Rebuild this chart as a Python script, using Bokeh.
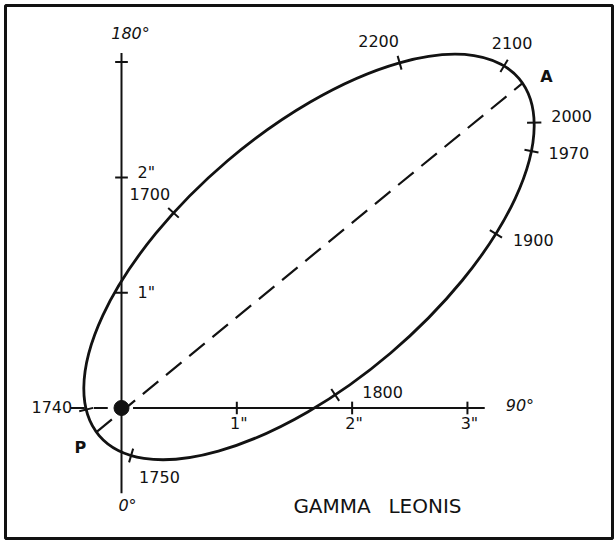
import numpy as np
from bokeh.plotting import figure
from bokeh.core.properties import value
from bokeh.embed import file_html
from bokeh.resources import INLINE

# Apparent relative orbit of Gamma Leonis, in arcseconds from the primary
# (x toward position angle 90 deg, y toward position angle 180 deg).
orbit_center = (1.626, 1.310)
orbit_semi_major = 2.39
orbit_semi_minor = 1.094
orbit_tilt_deg = 40.4

# Companion positions at the marked epochs
epoch_labels = ["1700", "1740", "1750", "1800", "1900", "1970", "2000", "2100", "2200"]
epoch_x = [0.468, -0.338, 0.078, 1.839, 3.226, 3.573, 3.599, 3.330, 2.411]
epoch_y = [1.678, -0.022, -0.429, 0.134, 1.522, 2.225, 2.476, 2.987, 2.996]

# Periastron (P) and apastron (A) on the apparent orbit
apsis_labels = ["P", "A"]
apsis_x = [-0.234, 3.487]
apsis_y = [-0.221, 2.823]

# Arcsecond scale marks along both reference lines
scale_ticks = [1, 2, 3]
scale_tick_labels = ['1"', '2"', '3"']
title_words = ["GAMMA", "LEONIS"]

INK = "#121212"
FONT = value("DejaVu Sans")

# ---- geometry helpers -------------------------------------------------------
theta = np.radians(orbit_tilt_deg)
u_dir = np.array([np.cos(theta), np.sin(theta)])
v_dir = np.array([-np.sin(theta), np.cos(theta)])
center = np.array(orbit_center)
phi_grid = np.linspace(0.0, 2.0 * np.pi, 7200, endpoint=False)
orbit_pts = (center[:, None]
             + orbit_semi_major * np.cos(phi_grid) * u_dir[:, None]
             + orbit_semi_minor * np.sin(phi_grid) * v_dir[:, None])


def on_orbit(px, py):
    """Nearest point of the orbit to (px, py) and the unit normal there."""
    i = int(np.argmin((orbit_pts[0] - px) ** 2 + (orbit_pts[1] - py) ** 2))
    f = phi_grid[i]
    tangent = -orbit_semi_major * np.sin(f) * u_dir + orbit_semi_minor * np.cos(f) * v_dir
    tangent = tangent / np.hypot(*tangent)
    return orbit_pts[:, i], np.array([-tangent[1], tangent[0]])


# ---- figure -----------------------------------------------------------------
p = figure(width=614, height=542,
           x_range=(-1.006, 4.258), y_range=(-1.132, 3.491),
           output_backend="svg", toolbar_location=None,
           x_axis_location=None, y_axis_location=None,
           min_border_left=5, min_border_right=2,
           min_border_top=5, min_border_bottom=4)
p.xgrid.visible = False
p.ygrid.visible = False
p.outline_line_color = INK
p.outline_line_width = 3
p.background_fill_color = "white"
p.border_fill_color = "white"

# apparent orbit
p.ellipse(x=[orbit_center[0]], y=[orbit_center[1]],
          width=[2 * orbit_semi_major], height=[2 * orbit_semi_minor],
          angle=[orbit_tilt_deg], angle_units="deg",
          fill_color=None, line_color=INK, line_width=2.8)

# reference lines through the primary
p.line([0, 0], [-0.74, 3.08], line_color=INK, line_width=2)
p.line([0.10, 3.15], [0, 0], line_color=INK, line_width=2)
p.line([-0.44, -0.05], [0, 0], line_color=INK, line_width=2, line_dash="14 9")

tick_half = 0.055
p.segment(x0=scale_ticks, y0=[-tick_half] * 3, x1=scale_ticks, y1=[tick_half] * 3,
          line_color=INK, line_width=2)
p.segment(x0=[-tick_half] * 3, y0=scale_ticks, x1=[tick_half] * 3, y1=scale_ticks,
          line_color=INK, line_width=2)

# line of apsides
(pxp, pyp), _ = on_orbit(apsis_x[0], apsis_y[0])
(pxa, pya), _ = on_orbit(apsis_x[1], apsis_y[1])
p.line([pxp, pxa], [pyp, pya], line_color=INK, line_width=2.2, line_dash="20 10")

# epoch marks across the orbit
ex0, ey0, ex1, ey1, ex, ey = [], [], [], [], [], []
for x, y in zip(epoch_x, epoch_y):
    pt, n = on_orbit(x, y)
    ex0.append(pt[0] - 0.062 * n[0]); ey0.append(pt[1] - 0.062 * n[1])
    ex1.append(pt[0] + 0.062 * n[0]); ey1.append(pt[1] + 0.062 * n[1])
    ex.append(pt[0]); ey.append(pt[1])
p.segment(x0=ex0, y0=ey0, x1=ex1, y1=ey1, line_color=INK, line_width=2)

# primary star
p.scatter(x=[0], y=[0], size=15, marker="circle", color=INK)


def label(x, y, text, dx=0, dy=0, align="left", size="16px", style="normal"):
    p.text(x=[x], y=[y], text=[text], x_offset=dx, y_offset=dy,
           text_align=align, text_baseline="middle", text_font=FONT,
           text_font_size=size, text_font_style=style, text_color=INK)


# epoch labels (offsets in screen pixels)
epoch_dx = [-44, -14, 8, 27, 17, 17, 17, 8, -21]
epoch_dy = [-19, -3, 21, -3, 6, 2, -7, -23, -22]
epoch_align = ["left", "right", "left", "left", "left", "left", "left", "center", "center"]
for t, x, y, dx, dy, al in zip(epoch_labels, ex, ey, epoch_dx, epoch_dy, epoch_align):
    label(x, y, t, dx, dy, al)

# apsis labels
label(pxp, pyp, apsis_labels[0], -16, 15, "center", "16px", "bold")
label(pxa, pya, apsis_labels[1], 24, -7, "center", "16px", "bold")

# arcsecond labels
for t, v in zip(scale_tick_labels, scale_ticks):
    label(v, 0, t, 2, 16, "center")
label(0, scale_ticks[0], scale_tick_labels[0], 16, 0, "left")
label(0, scale_ticks[1], scale_tick_labels[1], 16, -5, "left")

# position angles
label(0, 3.08, "180°", 9, -19, "center", "16px", "italic")
label(3.15, 0, "90°", 21, -2, "left", "16px", "italic")
label(0, -0.74, "0°", 6, 12, "center", "16px", "italic")

# star name
label(1.826, -0.846, title_words[0], 0, 0, "center", "20px")
label(2.632, -0.846, title_words[1], 0, 0, "center", "20px")

open("out.html", "w").write(file_html(p, INLINE))
